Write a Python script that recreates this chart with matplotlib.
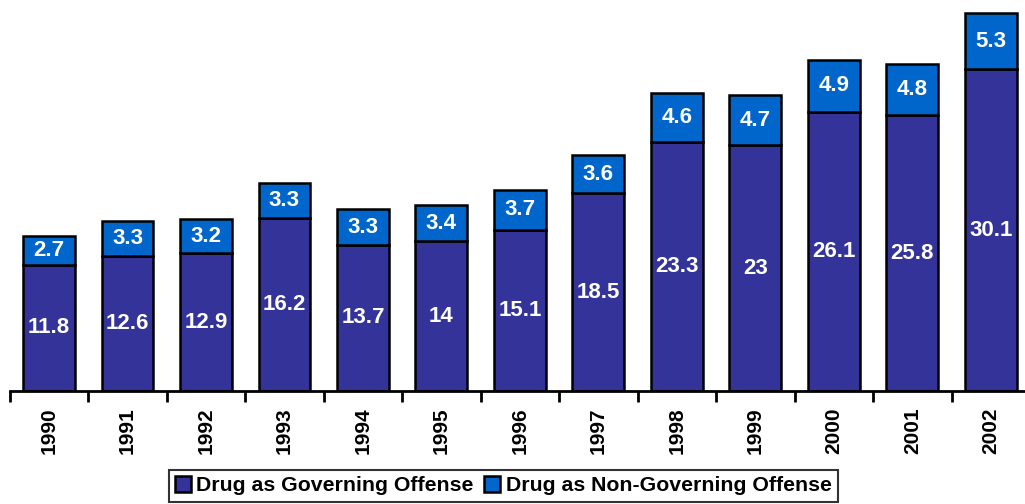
import matplotlib
matplotlib.use("Agg")
import matplotlib.pyplot as plt
import numpy as np

years = ["1990", "1991", "1992", "1993", "1994", "1995", "1996",
         "1997", "1998", "1999", "2000", "2001", "2002"]
governing = [11.8, 12.6, 12.9, 16.2, 13.7, 14, 15.1, 18.5, 23.3, 23, 26.1, 25.8, 30.1]
non_governing = [2.7, 3.3, 3.2, 3.3, 3.3, 3.4, 3.7, 3.6, 4.6, 4.7, 4.9, 4.8, 5.3]
series_names = ["Drug as Governing Offense", "Drug as Non-Governing Offense"]
colors = ["#333399", "#0066CC"]

plt.rcParams['font.family'] = ['Liberation Sans', 'DejaVu Sans']

fig = plt.figure(figsize=(10.25, 5.04), dpi=100)
ax = fig.add_axes([0.0095, 0.2242, 0.9954, 0.7758])

x = np.arange(len(years))
w = 0.66
b1 = ax.bar(x, governing, w, color=colors[0], edgecolor="black", linewidth=1.8,
            label=series_names[0])
b2 = ax.bar(x, non_governing, w, bottom=governing, color=colors[1], edgecolor="black",
            linewidth=1.8, label=series_names[1])

for xi, g, n in zip(x, governing, non_governing):
    ax.text(xi, g / 2, f"{g:g}", ha="center", va="center", color="white",
            fontsize=16, fontweight="bold")
    ax.text(xi, g + n / 2, f"{n:g}", ha="center", va="center", color="white",
            fontsize=16, fontweight="bold")

ax.set_xlim(-0.5, len(years) - 0.5)
ax.set_ylim(0, 36.6)
ax.set_xticks(x)
ax.set_xticklabels(years, rotation=90, fontsize=15, fontweight="bold")
ax.tick_params(axis="x", which="major", length=0, pad=12)
ax.set_xticks(np.arange(-0.5, len(years), 1), minor=True)
ax.tick_params(axis="x", which="minor", length=8, width=2, direction="out")
ax.set_yticks([])
for s in ["top", "right", "left"]:
    ax.spines[s].set_visible(False)
ax.spines["bottom"].set_linewidth(2)

leg = fig.legend(handles=[b1, b2], loc="upper center", bbox_to_anchor=(0.491, 0.068),
                 ncol=2, frameon=True, fancybox=False, edgecolor="black",
                 prop={"size": 15.3, "weight": "bold"}, handlelength=0.75,
                 handleheight=0.75, handletextpad=0.25, columnspacing=0.5,
                 borderpad=0.3, borderaxespad=0)
leg.get_frame().set_linewidth(1.5)

fig.savefig("out.png", dpi=100)
